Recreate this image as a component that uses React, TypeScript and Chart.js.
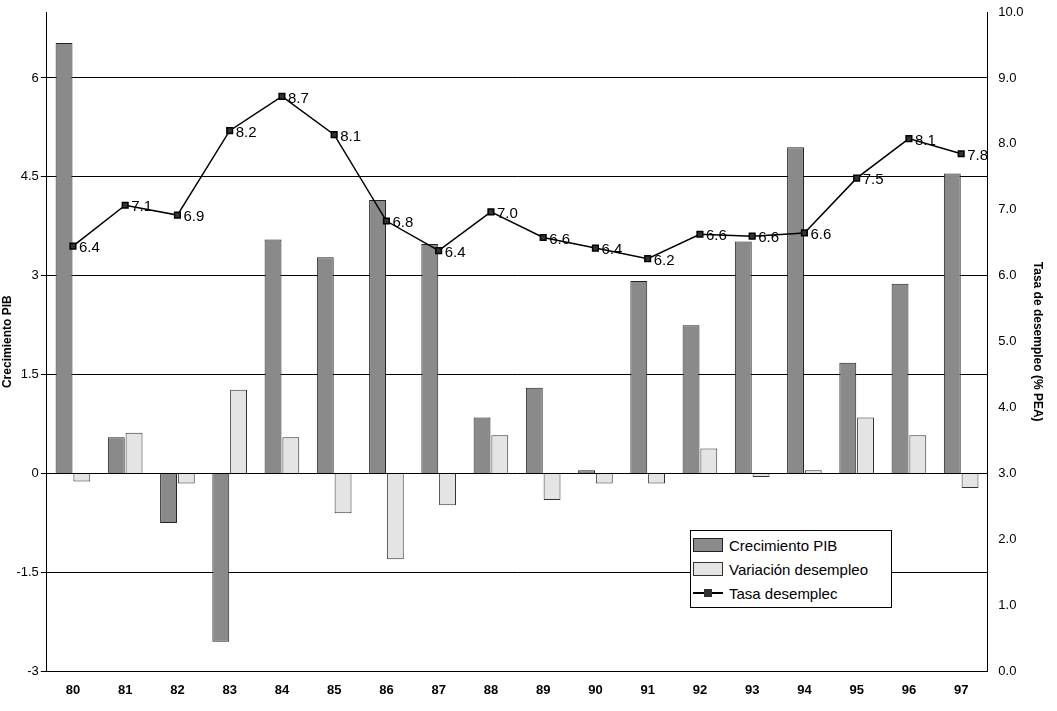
import { useEffect, useRef } from "react";
import Chart from "chart.js/auto";

const years = ["80","81","82","83","84","85","86","87","88","89","90","91","92","93","94","95","96","97"];
const crecimientoPib = [6.53,0.55,-0.75,-2.55,3.55,3.28,4.15,3.48,0.85,1.3,0.05,2.92,2.25,3.52,4.95,1.68,2.88,4.55];
const variacionDesempleo = [-0.12,0.62,-0.15,1.27,0.55,-0.6,-1.3,-0.48,0.58,-0.4,-0.15,-0.15,0.38,-0.05,0.05,0.85,0.58,-0.22];
const tasaDesempleo = [6.45,7.07,6.92,8.2,8.72,8.14,6.83,6.38,6.97,6.58,6.42,6.26,6.63,6.6,6.65,7.48,8.08,7.85];
const tasaLabels = ["6.4","7.1","6.9","8.2","8.7","8.1","6.8","6.4","7.0","6.6","6.4","6.2","6.6","6.6","6.6","7.5","8.1","7.8"];
const leftTicks = [-3, -1.5, 0, 1.5, 3, 4.5, 6];

const FONT = "Arial, 'Liberation Sans', sans-serif";

const pointLabels = {
  id: "pointLabels",
  afterDatasetsDraw(chart: any) {
    const meta = chart.getDatasetMeta(2);
    const ctx = chart.ctx;
    ctx.save();
    ctx.font = `15px ${FONT}`;
    ctx.fillStyle = "#000";
    ctx.textBaseline = "middle";
    meta.data.forEach((p: any, i: number) => {
      ctx.fillText(tasaLabels[i], p.x + 6, p.y + 2);
    });
    ctx.restore();
  },
};

const App = () => {
  const canvasRef = useRef<HTMLCanvasElement | null>(null);

  useEffect(() => {
    if (!canvasRef.current) return;
    const ctx = canvasRef.current.getContext("2d");
    if (!ctx) return;

    const chart = new Chart(ctx, {
      type: "bar",
      data: {
        labels: years,
        datasets: [
          {
            label: "Crecimiento PIB",
            data: crecimientoPib,
            backgroundColor: "#8a8a8a",
            borderColor: "#222",
            borderWidth: 1,
            yAxisID: "y",
            order: 2,
          },
          {
            label: "Variación desempleo",
            data: variacionDesempleo,
            backgroundColor: "#e4e4e4",
            borderColor: "#333",
            borderWidth: 1,
            yAxisID: "y",
            order: 2,
          },
          {
            type: "line",
            label: "Tasa desemplec",
            data: tasaDesempleo,
            borderColor: "#000",
            borderWidth: 1.5,
            backgroundColor: "#333",
            pointStyle: "rect",
            pointRadius: 4,
            yAxisID: "y1",
            order: 1,
          } as any,
        ],
      },
      options: {
        responsive: true,
        maintainAspectRatio: false,
        animation: false,
        layout: { padding: { top: 12, right: 8, left: 0, bottom: 10 } },
        datasets: { bar: { categoryPercentage: 0.68, barPercentage: 0.95 } },
        plugins: { legend: { display: false }, tooltip: { enabled: false } },
        scales: {
          x: {
            grid: { display: false },
            border: { color: "#000" },
            ticks: { color: "#000", font: { family: FONT, size: 13, weight: "bold" } },
          },
          y: {
            min: -3,
            max: 7,
            afterBuildTicks: (axis: any) => {
              axis.ticks = leftTicks.map((v) => ({ value: v }));
            },
            grid: { color: "#000", drawTicks: true, tickLength: 6 },
            border: { color: "#000" },
            ticks: { color: "#000", padding: 2, font: { family: FONT, size: 13 }, callback: (v: any) => String(v) },
            title: { display: true, padding: 0, text: "Crecimiento PIB", color: "#000", font: { family: FONT, size: 12, weight: "bold" } },
          },
          y1: {
            position: "right",
            min: 0,
            max: 10,
            grid: { display: false, drawOnChartArea: false },
            border: { color: "#000" },
            ticks: { stepSize: 1, color: "#000", font: { family: FONT, size: 13 }, callback: (v: any) => Number(v).toFixed(1) },
            title: { display: true, text: "Tasa de desempleo (% PEA)", color: "#000", font: { family: FONT, size: 12, weight: "bold" } },
          },
        },
      },
      plugins: [pointLabels],
    });

    return () => {
      chart.destroy();
    };
  }, []);

  const legendRow = (swatch: React.ReactNode, text: string) => (
    <div style={{ display: "flex", alignItems: "center", height: 24 }}>
      <div style={{ width: 34, display: "flex", justifyContent: "center", alignItems: "center" }}>{swatch}</div>
      <span style={{ marginLeft: 4 }}>{text}</span>
    </div>
  );

  return (
    <div style={{ position: "fixed", left: 0, top: 0, width: 1057, height: 711, background: "#fff" }}>
      <canvas ref={canvasRef}></canvas>
      <div
        style={{
          position: "absolute",
          left: 690,
          top: 530,
          width: 200,
          border: "1px solid #000",
          background: "#fff",
          fontFamily: FONT,
          fontSize: 15,
          padding: "2px 0",
        }}
      >
        {legendRow(<div style={{ width: 28, height: 12, background: "#8a8a8a", border: "1px solid #222" }} />, "Crecimiento PIB")}
        {legendRow(<div style={{ width: 28, height: 12, background: "#e4e4e4", border: "1px solid #333" }} />, "Variación desempleo")}
        {legendRow(
          <div style={{ position: "relative", width: 30, height: 10 }}>
            <div style={{ position: "absolute", top: 4, left: 0, width: 30, height: 2, background: "#000" }} />
            <div style={{ position: "absolute", top: 1, left: 11, width: 8, height: 8, background: "#333" }} />
          </div>,
          "Tasa desemplec"
        )}
      </div>
    </div>
  );
};

export default App;
